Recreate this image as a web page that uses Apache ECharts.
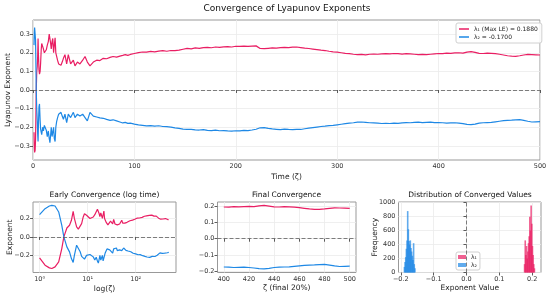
<!DOCTYPE html>
<html>
<head>
<meta charset="utf-8">
<script src="https://cdn.jsdelivr.net/npm/echarts@6/dist/echarts.min.js"></script>
<style>
  html, body { margin: 0; padding: 0; background: #fff; }
  #chart { width: 550px; height: 295px; }
</style>
</head>
<body>
<div id="chart"></div>
<script>
// time samples (ζ)
const zeta = [
  1, 1.3, 1.6, 1.8, 2.1, 2.5, 2.9, 3.2, 3.7, 4.2, 4.6, 5.0, 5.3, 5.9, 6.4, 7.0, 7.5, 8.1, 8.6, 9.5,
  10.3, 11.2, 12.1, 13.1, 14.1, 15.1, 16.0, 16.7, 17.4, 18.0, 18.8, 19.5, 20.3, 21.0, 21.8, 22.5, 23.3,
  24.2, 25.3, 26.4, 27.6, 28.8, 30,
  31.5, 33.2, 34.8, 37.1, 39.8, 41.4, 43.8, 46.3, 49, 51.3, 53.6, 56.2, 59.5, 62.8, 66, 69.3, 72.6,
  76, 79, 82.4, 85.7, 88.5, 91, 93.5, 96,
  100, 104, 108, 112, 116, 120, 124, 128, 132, 136, 140, 144, 148, 152, 156, 160, 164, 168, 172, 176,
  180, 184, 188, 192, 196, 200, 204, 208, 212, 216, 220, 224, 228, 232, 236, 240, 244, 248, 252, 256,
  260, 264, 268, 272, 276, 280, 284, 288, 292, 296, 300, 304, 308, 312, 316, 320, 324, 328, 332, 336,
  340, 344, 348, 352, 356, 360, 364, 368, 372, 376, 380, 384, 388, 392, 396, 400, 404, 408, 412, 416,
  420, 424, 428, 432, 436, 440, 444, 448, 452, 456, 460, 464, 468, 472, 476, 480, 484, 488, 492, 496, 500
];
// λ1 running estimate
const lambda1 = [
  -0.227, -0.306, -0.335, -0.342, -0.324, -0.27, -0.126, 0.0, 0.097, 0.126, 0.18, 0.277, 0.2, 0.108, 0.085,
  0.1, 0.144, 0.216, 0.25, 0.234, 0.22, 0.2, 0.21, 0.216, 0.241, 0.26, 0.3, 0.306, 0.25, 0.22, 0.26, 0.277,
  0.2, 0.24, 0.28, 0.2, 0.19, 0.16, 0.14, 0.13, 0.133, 0.15, 0.17,
  0.19, 0.14, 0.19, 0.14, 0.16, 0.13, 0.15, 0.14, 0.16, 0.18, 0.15, 0.13, 0.15, 0.16, 0.158, 0.17, 0.168,
  0.175, 0.18, 0.177, 0.182, 0.186, 0.19, 0.186, 0.191,
  0.196, 0.201, 0.204, 0.203, 0.207, 0.205, 0.209, 0.211, 0.208, 0.212, 0.211, 0.214, 0.219, 0.224, 0.221,
  0.226, 0.224, 0.228, 0.229, 0.227, 0.231, 0.229, 0.232, 0.233, 0.231, 0.235, 0.234, 0.236, 0.234, 0.236,
  0.237, 0.223, 0.222, 0.224, 0.226, 0.225, 0.228, 0.229, 0.228, 0.23, 0.231, 0.228, 0.225, 0.223, 0.22,
  0.217, 0.214, 0.212, 0.208, 0.205, 0.203, 0.2, 0.197, 0.195, 0.192, 0.19, 0.191, 0.189, 0.192, 0.193,
  0.192, 0.194, 0.195, 0.194, 0.196, 0.195, 0.193, 0.195, 0.194, 0.192, 0.19, 0.191, 0.19, 0.192, 0.194,
  0.196, 0.195, 0.198, 0.197, 0.199, 0.2, 0.198, 0.203, 0.206, 0.202, 0.197, 0.196, 0.198, 0.197, 0.195,
  0.192, 0.188, 0.184, 0.182, 0.181, 0.184, 0.188, 0.191, 0.19, 0.189, 0.188
];
// λ2 running estimate
const lambda2 = [
  0.241, 0.306, 0.335, 0.342, 0.335, 0.27, 0.126, 0.0, -0.108, -0.162, -0.234, -0.277, -0.2, -0.09, -0.075,
  -0.16, -0.21, -0.216, -0.24, -0.2, -0.22, -0.19, -0.2, -0.216, -0.25, -0.22, -0.26, -0.283, -0.24, -0.2,
  -0.25, -0.24, -0.2, -0.26, -0.277, -0.2, -0.17, -0.15, -0.13, -0.135, -0.12, -0.14, -0.157,
  -0.13, -0.175, -0.13, -0.148, -0.12, -0.148, -0.13, -0.14, -0.13, -0.148, -0.166, -0.12, -0.14, -0.145,
  -0.15, -0.152, -0.158, -0.163, -0.16, -0.166, -0.172, -0.177, -0.174, -0.179, -0.178,
  -0.183, -0.187, -0.19, -0.193, -0.191, -0.194, -0.192, -0.196, -0.197, -0.199, -0.203, -0.206, -0.21,
  -0.212, -0.211, -0.214, -0.215, -0.213, -0.217, -0.218, -0.216, -0.219, -0.218, -0.22, -0.221, -0.219,
  -0.22, -0.217, -0.218, -0.215, -0.211, -0.203, -0.202, -0.206, -0.209, -0.211, -0.213, -0.21, -0.212,
  -0.213, -0.211, -0.212, -0.208, -0.205, -0.202, -0.199, -0.196, -0.194, -0.191, -0.19, -0.187, -0.184,
  -0.181, -0.178, -0.176, -0.173, -0.172, -0.174, -0.176, -0.177, -0.178, -0.18, -0.179, -0.18, -0.178,
  -0.179, -0.177, -0.175, -0.176, -0.174, -0.173, -0.175, -0.174, -0.173, -0.175, -0.175, -0.176, -0.178,
  -0.177, -0.176, -0.178, -0.181, -0.185, -0.186, -0.183, -0.178, -0.176, -0.175, -0.174, -0.171, -0.168,
  -0.165, -0.163, -0.162, -0.16, -0.159, -0.163, -0.168, -0.172, -0.171, -0.17
];

// histogram of converged values (last 20%)
const histX1 = [0.177, 0.179, 0.181, 0.183, 0.185, 0.187, 0.189, 0.191, 0.193, 0.195, 0.197, 0.199, 0.201, 0.203, 0.205, 0.207];
const histN1 = [120, 460, 250, 380, 200, 300, 420, 520, 800, 600, 960, 700, 380, 250, 120, 60];
const histX2 = [-0.189, -0.187, -0.185, -0.183, -0.181, -0.179, -0.177, -0.175, -0.173, -0.171, -0.169, -0.167, -0.165, -0.163, -0.161, -0.159, -0.157];
const histN2 = [80, 150, 220, 340, 460, 880, 620, 450, 400, 460, 350, 300, 240, 180, 420, 120, 60];

// tick labels
const mainXTicks = [0, 100, 200, 300, 400, 500];
const mainYTicks = [-0.3, -0.2, -0.1, 0, 0.1, 0.2, 0.3];
const logXTicks = [1, 10, 100];
const earlyYTicks = [-0.2, 0, 0.2];
const finalXTicks = [400, 420, 440, 460, 480, 500];
const finalYTicks = [-0.2, -0.1, 0, 0.1, 0.2];
const histXTicks = [-0.2, -0.1, 0, 0.1, 0.2];
const histYTicks = [0, 200, 400, 600, 800, 1000];

const name1 = 'λ₁ (Max LE) = 0.1880';
const name2 = 'λ₂ = -0.1700';
const RED = '#e91e63';
const BLUE = '#1e88e5';
const FONT = 'DejaVu Sans';

const pts1 = zeta.map((t, i) => [t, lambda1[i]]);
const pts2 = zeta.map((t, i) => [t, lambda2[i]]);
const fin1 = pts1.filter(p => p[0] >= 400);
const fin2 = pts2.filter(p => p[0] >= 400);

const fmt1 = v => Number(v).toFixed(1).replace('-', '\u2212');
const sup = { 0: '⁰', 1: '¹', 2: '²' };

function axis(type, grid, min, max, ticks, fmt, extra) {
  return Object.assign({
    type: type,
    gridIndex: grid,
    min: min,
    max: max,
    axisLine: { show: false },
    axisTick: { show: true, length: 3, customValues: ticks, lineStyle: { color: '#333', width: 0.8 } },
    axisLabel: { customValues: ticks, fontSize: 6.5, color: '#333', fontFamily: FONT, margin: 3, formatter: fmt },
    splitLine: { show: true, lineStyle: { color: '#ebebeb', width: 0.8 } },
    nameTextStyle: { fontSize: 7.5, color: '#222', fontFamily: FONT },
    nameLocation: 'middle',
    nameMoveOverlap: false
  }, extra || {});
}

const zeroLine = (key) => ({
  silent: true,
  symbol: 'none',
  label: { show: false },
  lineStyle: { type: [4, 2], color: '#555', width: 1, opacity: 0.75 },
  data: [{ [key]: 0 }]
});

const lineSeries = (name, data, color, x, y, extra) => Object.assign({
  type: 'line', name: name, data: data, xAxisIndex: x, yAxisIndex: y,
  showSymbol: false, symbol: 'none', lineStyle: { color: color, width: 1.2 }, itemStyle: { color: color }
}, extra || {});

const gridBox = (left, top, width, height) => ({
  left: left, top: top, width: width, height: height,
  show: true, borderColor: '#999', borderWidth: 1,
  outerBoundsMode: 'none', containLabel: false
});

const chart = echarts.init(document.getElementById('chart'));
chart.setOption({
  animation: false,
  backgroundColor: '#fff',
  textStyle: { fontFamily: FONT },
  graphic: [
    { type: 'text', x: 287, y: 9, style: { text: 'Convergence of Lyapunov Exponents', textAlign: 'center', textVerticalAlign: 'middle', font: '9px "DejaVu Sans"', fill: '#111' } },
    { type: 'text', x: 104.5, y: 195.5, style: { text: 'Early Convergence (log time)', textAlign: 'center', textVerticalAlign: 'middle', font: '7.5px "DejaVu Sans"', fill: '#111' } },
    { type: 'text', x: 286.5, y: 195.5, style: { text: 'Final Convergence', textAlign: 'center', textVerticalAlign: 'middle', font: '7.5px "DejaVu Sans"', fill: '#111' } },
    { type: 'text', x: 470, y: 195.5, style: { text: 'Distribution of Converged Values', textAlign: 'center', textVerticalAlign: 'middle', font: '7.5px "DejaVu Sans"', fill: '#111' } }
  ],
  grid: [
    gridBox(33, 20, 507, 140),
    gridBox(33, 202, 143, 70.5),
    gridBox(217.5, 202, 138.5, 70.5),
    gridBox(398.5, 202, 142.5, 70.5)
  ],
  legend: [
    {
      data: [name1, name2], orient: 'vertical', left: 456, top: 23, itemGap: 2, itemWidth: 10, itemHeight: 1.5,
      icon: 'rect', padding: [3, 4, 3, 3], borderColor: '#d0d0d0', borderWidth: 1, borderRadius: 2,
      backgroundColor: 'rgba(255,255,255,0.85)', textStyle: { fontSize: 6, color: '#222', fontFamily: FONT }
    },
    {
      data: ['λ₁', 'λ₂'], orient: 'vertical', left: 456, top: 252, itemGap: 2, itemWidth: 8, itemHeight: 4,
      icon: 'rect', padding: [2, 3, 2, 2], borderColor: '#d0d0d0', borderWidth: 1, borderRadius: 2,
      backgroundColor: 'rgba(255,255,255,0.85)', textStyle: { fontSize: 6, color: '#222', fontFamily: FONT }
    }
  ],
  xAxis: [
    axis('value', 0, 0, 500, mainXTicks, v => String(v), { name: 'Time (ζ)', nameGap: 13 }),
    axis('log', 1, 0.73, 690, logXTicks, v => '10' + sup[Math.round(Math.log10(v))], { name: 'log(ζ)', nameGap: 13, logBase: 10 }),
    axis('value', 2, 395, 505, finalXTicks, v => String(v), { name: 'ζ (final 20%)', nameGap: 12 }),
    axis('value', 3, -0.207, 0.227, histXTicks, fmt1, { name: 'Exponent Value', nameGap: 12 })
  ],
  yAxis: [
    axis('value', 0, -0.376, 0.376, mainYTicks, fmt1, { name: 'Lyapunov Exponent', nameGap: 21 }),
    axis('value', 1, -0.385, 0.378, earlyYTicks, fmt1, { name: 'Exponent', nameGap: 19 }),
    axis('value', 2, -0.209, 0.227, finalYTicks, fmt1),
    axis('value', 3, 0, 1010, histYTicks, v => String(v), { name: 'Frequency', nameGap: 19 })
  ],
  series: [
    lineSeries(name1, pts1, RED, 0, 0, { markLine: zeroLine('yAxis') }),
    lineSeries(name2, pts2, BLUE, 0, 0),
    lineSeries('early1', pts1, RED, 1, 1, { markLine: zeroLine('yAxis') }),
    lineSeries('early2', pts2, BLUE, 1, 1),
    lineSeries('final1', fin1, RED, 2, 2, { markLine: zeroLine('yAxis') }),
    lineSeries('final2', fin2, BLUE, 2, 2),
    {
      type: 'bar', name: 'λ₁', xAxisIndex: 3, yAxisIndex: 3, barWidth: 1.6, barGap: '-100%',
      itemStyle: { color: RED, opacity: 0.7 },
      data: histX1.map((x, i) => [x, histN1[i]]),
      markLine: zeroLine('xAxis')
    },
    {
      type: 'bar', name: 'λ₂', xAxisIndex: 3, yAxisIndex: 3, barWidth: 1.6, barGap: '-100%',
      itemStyle: { color: BLUE, opacity: 0.7 },
      data: histX2.map((x, i) => [x, histN2[i]])
    }
  ]
});
</script>
</body>
</html>
